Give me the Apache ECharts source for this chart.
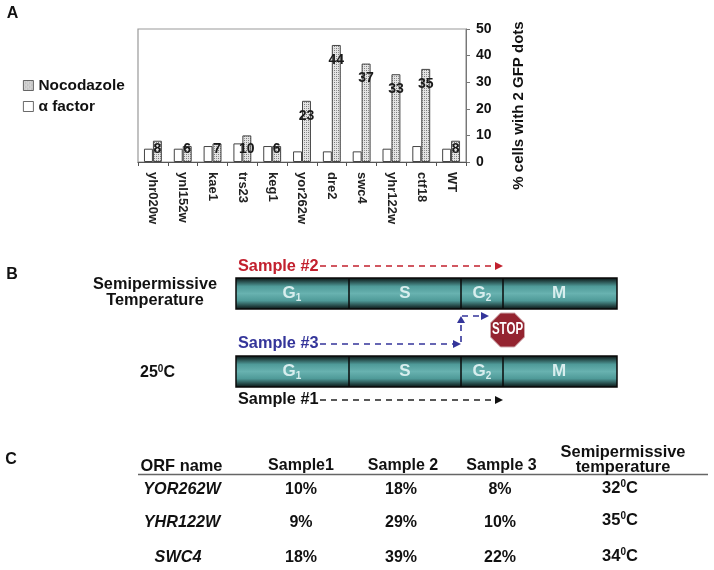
<!DOCTYPE html>
<html><head><meta charset="utf-8">
<style>html,body{margin:0;padding:0;background:#fff}#c{width:714px;height:570px}</style>
<script src="https://cdn.jsdelivr.net/npm/echarts@6/dist/echarts.min.js"></script>
</head><body><div id="c"></div>
<script>
const categories=['yhr020w','ynl152w','kae1','trs23','keg1','yor262w','dre2','swc4','yhr122w','ctf18','WT'];
const alphaFactor=[5,5,6,7,6,4,4,4,5,6,5];
const nocodazole=[8,6,7,10,6,23,44,37,33,35,8];
const phases=['G{s|1}','S','G{s|2}','M'];
const tableHeader=['ORF name','Sample1','Sample 2','Sample 3'];
const orfNames=['YOR262W','YHR122W','SWC4'];
const sample1=['10%','9%','18%'];
const sample2=['18%','29%','39%'];
const sample3=['8%','10%','22%'];
const semiTemp=['32{u|0}C','35{u|0}C','34{u|0}C'];

const FF='"Liberation Sans",Arial,sans-serif';
const pc=document.createElement('canvas');pc.width=4;pc.height=4;
const g=pc.getContext('2d');g.fillStyle='#e4e4e4';g.fillRect(0,0,4,4);g.fillStyle='#777';
g.fillRect(0,0,1,1);g.fillRect(2,2,1,1);g.fillStyle='#999';g.fillRect(2,0,1,1);g.fillRect(0,2,1,1);
const pattern={image:pc,repeat:'repeat'};

function T(text,x,y,size,o){o=o||{};return {type:'text',silent:true,z:10,style:Object.assign({text:text,x:x,y:y,fontSize:size,fontWeight:'bold',fontFamily:FF,fill:'#111',align:'center',verticalAlign:'middle'},o)};}
const subRich={s:{fontSize:10,fontWeight:'bold',fontFamily:FF,fill:'#d8eeee',padding:[9,0,0,0]}};
const supRich={u:{fontSize:10,fontWeight:'bold',fontFamily:FF,fill:'#111',padding:[0,0,8,0]}};

const graphics=[];
graphics.push(T('A',12.5,14,16),T('B',12,275,16),T('C',11,460,16));

function cycle(top){
  const h=31,x0=236,x1=617;
  graphics.push({type:'rect',silent:true,shape:{x:x0,y:top,width:x1-x0,height:h},
    style:{stroke:'#0a0a0a',lineWidth:1.5,fill:{type:'linear',x:0,y:0,x2:0,y2:1,colorStops:[
      {offset:0,color:'#050a0a'},{offset:.28,color:'#4f9a98'},{offset:.5,color:'#68b2b0'},{offset:.72,color:'#4f9a98'},{offset:1,color:'#050a0a'}]}}});
  [349,461,503].forEach(x=>graphics.push({type:'line',silent:true,shape:{x1:x,y1:top,x2:x,y2:top+h},style:{stroke:'#0a0a0a',lineWidth:1.5}}));
  [292,405,482,559].forEach((x,i)=>graphics.push(T(phases[i],x,top+15.5,17,{fill:'#d8eeee',rich:subRich})));
}
cycle(278);cycle(356);

function arrow(pts,color){
  graphics.push({type:'polyline',silent:true,shape:{points:pts},style:{stroke:color,lineWidth:1.6,lineDash:[6,5],fill:null}});
}
function head(x,y,dir,color){
  const p=dir==='r'?[[x,y],[x-8,y-4],[x-8,y+4]]:[[x,y],[x-4,y+7],[x+4,y+7]];
  graphics.push({type:'polygon',silent:true,shape:{points:p},style:{fill:color}});
}
const red='#c2202e',blue='#34359a';
graphics.push(T('Sample #2',238,267,16.3,{align:'left',fill:red}));
arrow([[320,266],[500,266]],red);head(503,266,'r',red);
graphics.push(T('Sample #3',238,344,16.3,{align:'left',fill:blue}));
arrow([[320,344],[455,344]],blue);head(461,344,'r',blue);
arrow([[461,342],[461,322]],blue);head(461,316,'u',blue);
arrow([[462,316],[482,316]],blue);head(489,316,'r',blue);
graphics.push(T('Sample #1',238,400,16.3,{align:'left',fill:'#111'}));
arrow([[320,400],[500,400]],'#222');head(503,400,'r','#111');

const r=17,cx=507.5,cy=330,k=r*0.414;
graphics.push({type:'polygon',silent:true,shape:{points:[[cx-k,cy-r],[cx+k,cy-r],[cx+r,cy-k],[cx+r,cy+k],[cx+k,cy+r],[cx-k,cy+r],[cx-r,cy+k],[cx-r,cy-k]]},
  style:{fill:'#942430',stroke:'#cfa9ad',lineWidth:1}});
graphics.push({type:'text',silent:true,z:11,x:cx,y:cy,scaleX:.72,style:{text:'STOP',x:0,y:0,fontSize:16,fontWeight:'bold',fontFamily:FF,fill:'#fff',align:'center',verticalAlign:'middle'}});

graphics.push(T('Semipermissive',155,285,16.3),T('Temperature',155,301,16.3));
graphics.push(T('25{u|0}C',157.5,373,16,{rich:supRich}));

graphics.push({type:'line',silent:true,shape:{x1:138,y1:474.5,x2:708,y2:474.5},style:{stroke:'#666',lineWidth:1.5}});
graphics.push(T(tableHeader[0],181.5,466,16.4));
graphics.push(T(tableHeader[1],301,466,16),T(tableHeader[2],403,466,16),T(tableHeader[3],501.5,466,16));
graphics.push(T('Semipermissive',623,452,16.4),T('temperature',623,467,16.4));
const rowsY=[490,522.5,557.5],tempY=[488,520.5,556.5];
orfNames.forEach((n,i)=>{
  graphics.push(T(n,i===2?178:182,rowsY[i],16.2,{fontStyle:'italic'}));
  graphics.push(T(sample1[i],301,rowsY[i],16),T(sample2[i],401,rowsY[i],16),T(sample3[i],500,rowsY[i],16));
  graphics.push(T(semiTemp[i],620,tempY[i],16.5,{rich:supRich}));
});

const chart=echarts.init(document.getElementById('c'),null,{renderer:'canvas'});
chart.setOption({
  animation:false,
  backgroundColor:'#fff',
  textStyle:{fontFamily:FF},
  grid:{left:138,right:248,top:29,bottom:408,show:true,borderColor:'#999',borderWidth:1.2,backgroundColor:'transparent'},
  legend:{orient:'vertical',left:18,top:73,itemWidth:10,itemHeight:10,itemGap:6,icon:'rect',
    itemStyle:{borderWidth:0.8},
    data:['Nocodazole','α factor'],textStyle:{fontSize:15.4,fontWeight:'bold',color:'#111',fontFamily:FF}},
  xAxis:{type:'category',data:categories,
    axisLine:{show:true,lineStyle:{color:'#555',width:1}},
    axisTick:{show:true,length:4,alignWithLabel:false,lineStyle:{color:'#555'}},
    axisLabel:{rotate:-90,margin:10,fontSize:13,fontWeight:'bold',color:'#222',interval:0,fontFamily:FF},splitLine:{show:false}},
  yAxis:{type:'value',position:'right',min:0,max:50,interval:10,
    name:'% cells with 2 GFP dots',nameLocation:'middle',nameRotate:90,nameGap:45,
    nameTextStyle:{fontSize:15,fontWeight:'bold',color:'#111',fontFamily:FF,padding:[0,20,0,0]},
    axisLine:{show:true,lineStyle:{color:'#777',width:1}},
    axisTick:{show:true,length:4,lineStyle:{color:'#777'}},
    axisLabel:{margin:10,fontSize:14,fontWeight:'bold',color:'#111',fontFamily:FF},
    splitLine:{show:false}},
  series:[
    {name:'α factor',type:'bar',data:alphaFactor,barWidth:'30%',barGap:'0%',
     itemStyle:{color:'#fff',borderColor:'#444',borderWidth:1}},
    {name:'Nocodazole',type:'bar',data:nocodazole.map(v=>({value:v,label:v<=10?{position:'insideBottom',distance:6}:{position:'insideTop',distance:8}})),barWidth:'30%',
     itemStyle:{color:pattern,borderColor:'#444',borderWidth:1},
     label:{show:true,fontSize:14,fontWeight:'bold',color:'#1a1a1a',fontFamily:FF}}
  ],
  graphic:{elements:graphics}
});
</script></body></html>
